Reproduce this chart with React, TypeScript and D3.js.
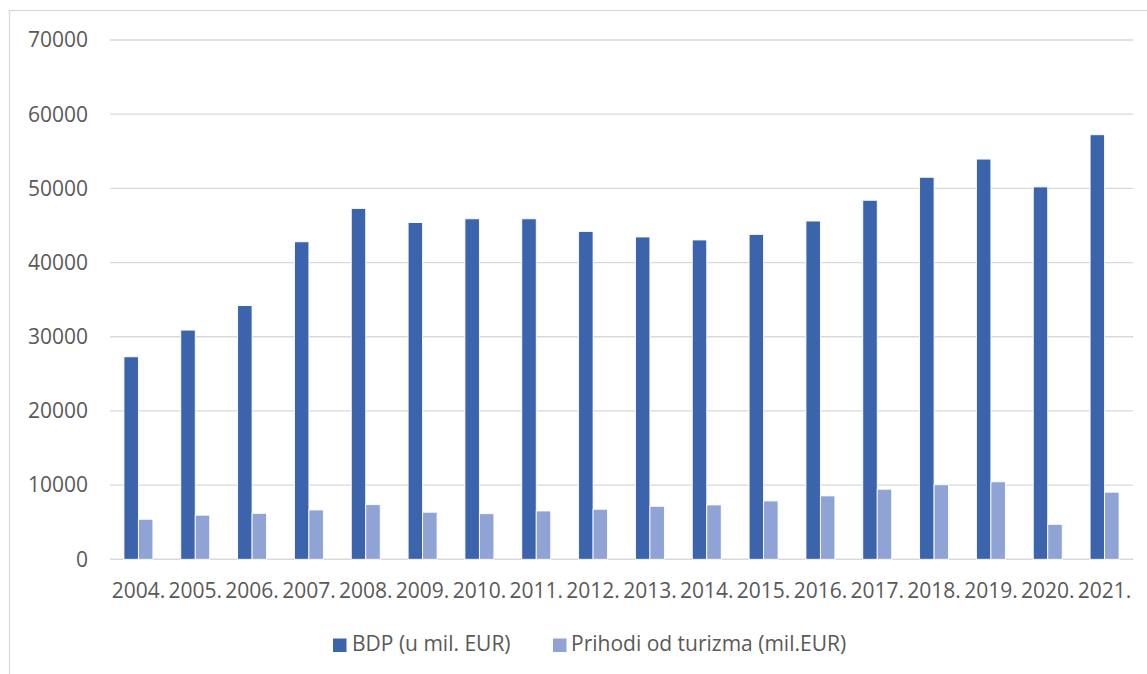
import React from "react";
import * as d3 from "d3";

const years = ["2004.", "2005.", "2006.", "2007.", "2008.", "2009.", "2010.", "2011.", "2012.", "2013.", "2014.", "2015.", "2016.", "2017.", "2018.", "2019.", "2020.", "2021."];
const bdp = [27300, 30900, 34200, 42800, 47300, 45400, 45900, 45900, 44200, 43450, 43050, 43800, 45600, 48400, 51500, 53950, 50200, 57230];
const turizam = [5400, 5950, 6200, 6650, 7370, 6350, 6150, 6520, 6750, 7150, 7330, 7870, 8550, 9450, 10050, 10450, 4720, 9050];
const seriesNames = ["BDP (u mil. EUR)", "Prihodi od turizma (mil.EUR)"];
const seriesColors = ["#3C64AD", "#8FA3D5"];
const yTicks = [0, 10000, 20000, 30000, 40000, 50000, 60000, 70000];

const W = 1147;
const H = 674;
const FONT = "'Open Sans', 'Noto Sans', sans-serif";
const TEXT = "#595959";
const FS = 21;

export default function App() {
  const x0 = d3.scaleBand<string>().domain(years).range([110, 1133]).paddingInner(0.49).paddingOuter(0.245);
  const x1 = d3.scaleBand<string>().domain(seriesNames).range([0, x0.bandwidth()]).padding(0);
  const y = d3.scaleLinear().domain([0, 70000]).range([559.3, 40]);
  const data = [bdp, turizam];

  return (
    <svg width={W} height={H} style={{ position: "absolute", left: 0, top: 0, background: "#fff" }}>
      <rect x={0} y={0} width={W} height={H} fill="#fff" />
      <rect x={9.5} y={10.5} width={1400} height={900} fill="none" stroke="#D9D9D9" strokeWidth={1.3} />
      {yTicks.map((t) => (
        <g key={t}>
          <line x1={110} x2={1133} y1={y(t)} y2={y(t)} stroke="#D9D9D9" strokeWidth={t === 0 ? 1.6 : 1.3} />
          <text x={88} y={y(t)} dy="0.35em" textAnchor="end" fontFamily={FONT} fontSize={FS} fill={TEXT}>
            {t}
          </text>
        </g>
      ))}
      {years.map((yr, i) => (
        <g key={yr} transform={`translate(${x0(yr)},0)`}>
          {seriesNames.map((s, k) => (
            <rect
              key={s}
              x={x1(s)}
              y={y(data[k][i])}
              width={x1.bandwidth()}
              height={y(0) - y(data[k][i])}
              fill={seriesColors[k]}
              stroke="#fff"
              strokeWidth={0.9}
            />
          ))}
          <text x={x0.bandwidth() / 2} y={598} textAnchor="middle" fontFamily={FONT} fontSize={FS} fill={TEXT}>
            {yr}
          </text>
        </g>
      ))}
      {[
        { sq: 333, tx: 352 },
        { sq: 553, tx: 571 },
      ].map((l, k) => (
        <g key={k}>
          <rect x={l.sq} y={638.5} width={13.5} height={13.5} fill={seriesColors[k]} />
          <text x={l.tx} y={651} fontFamily={FONT} fontSize={FS} fill={TEXT}>
            {seriesNames[k]}
          </text>
        </g>
      ))}
    </svg>
  );
}
